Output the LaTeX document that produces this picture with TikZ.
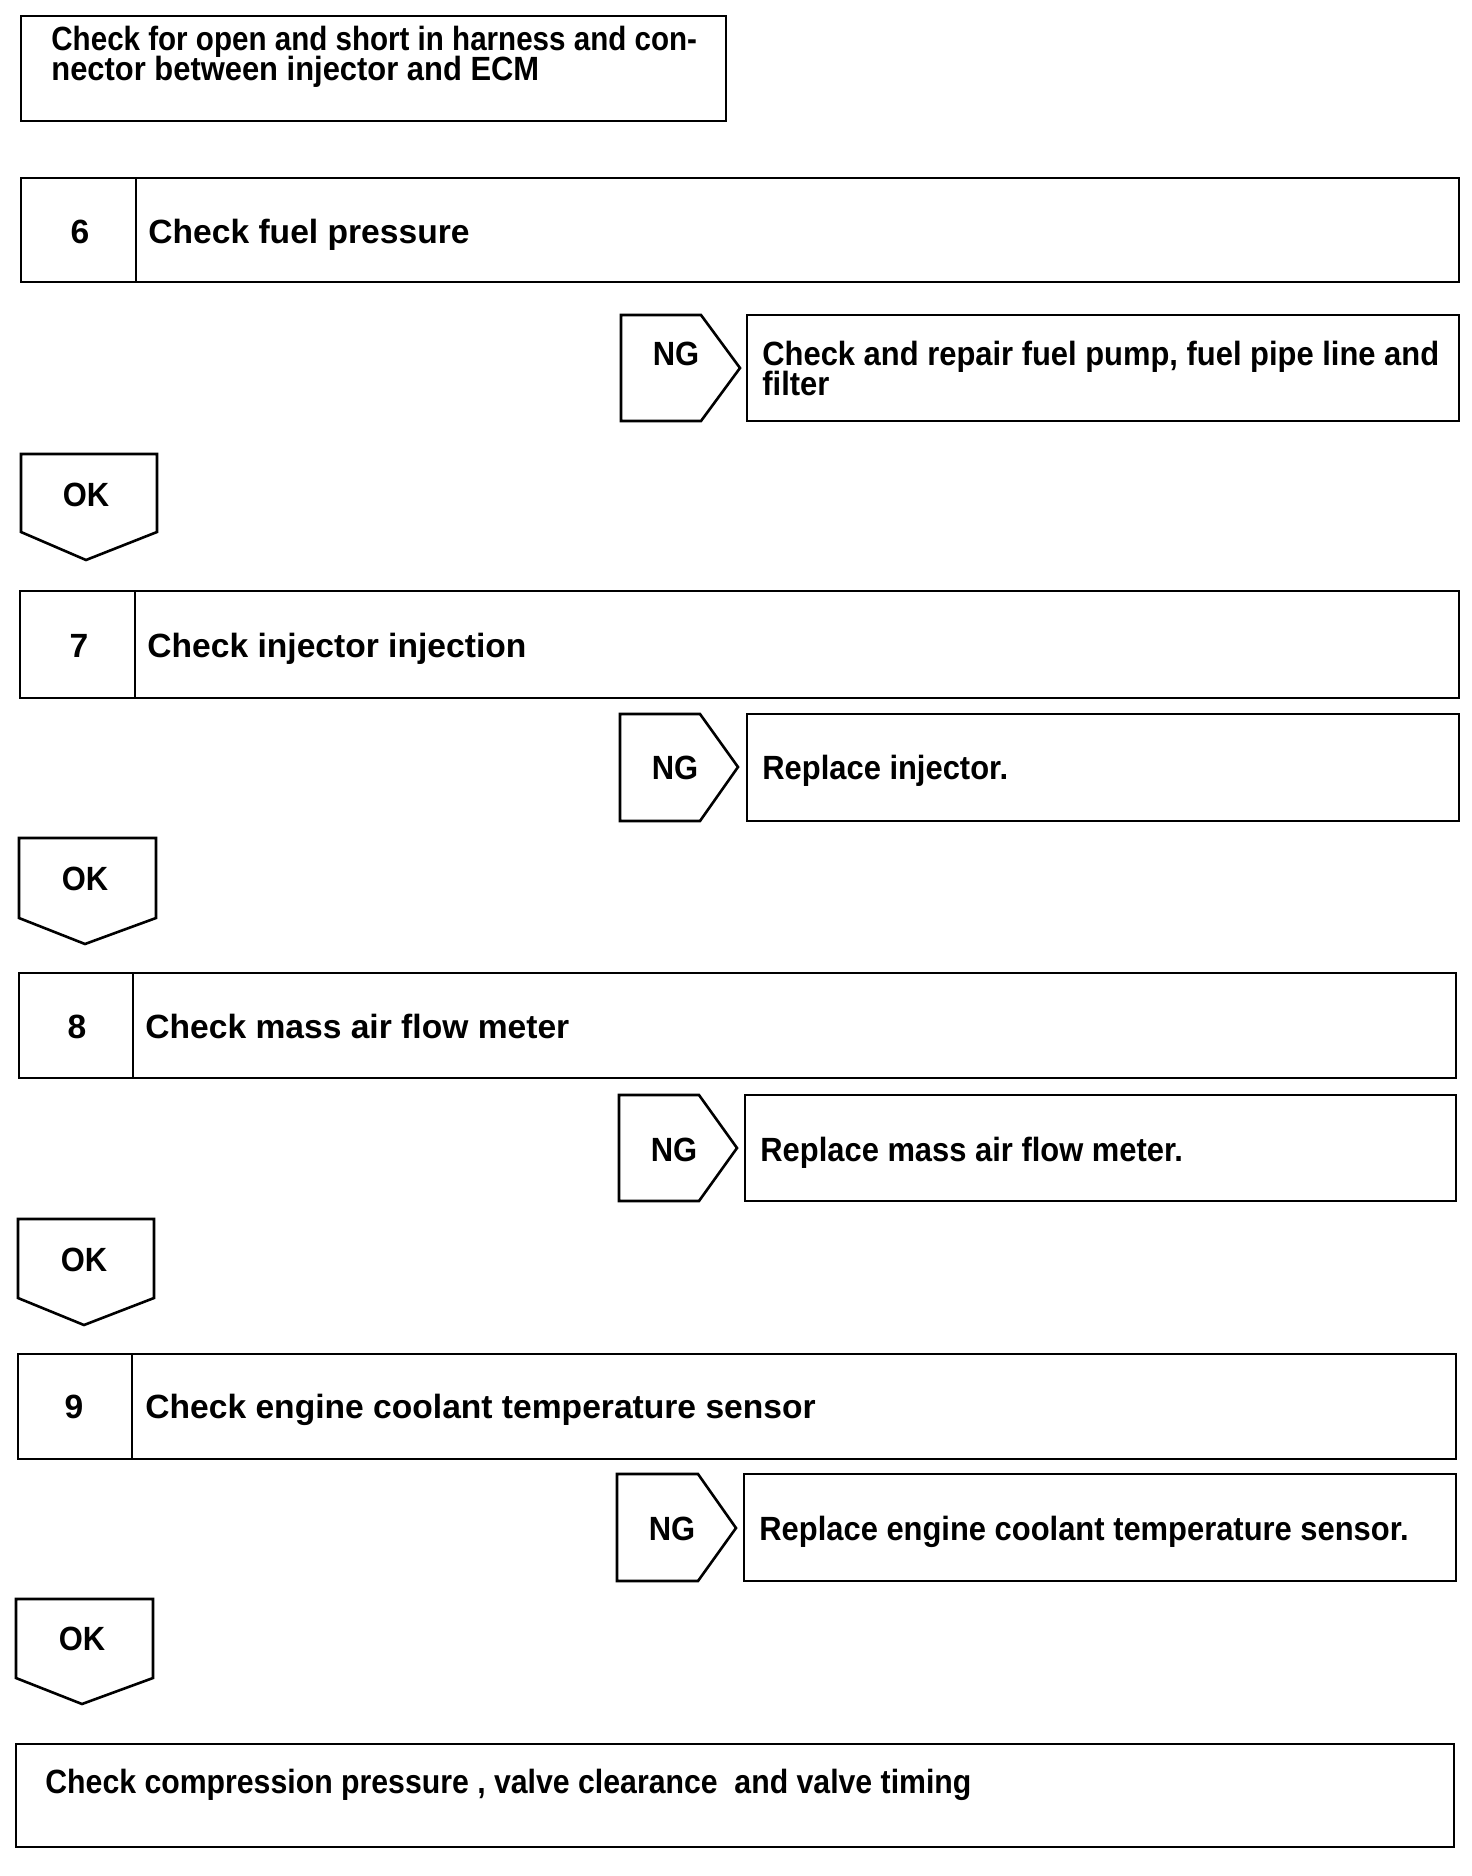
\documentclass[tikz,border=0pt]{standalone}
\usepackage{fontspec}
\setmainfont{Liberation Sans}
\newfontfamily\cfont{Liberation Sans}[FakeStretch=0.88]
\newfontfamily\ffont{Liberation Sans}[FakeStretch=0.90]
\newfontfamily\nfont{Liberation Sans}[FakeStretch=0.92]
\newcommand\tightls{\lineskiplimit=-20pt\relax\lineskip=0pt\relax}
\begin{document}
\begin{tikzpicture}[x=0.5pt,y=-0.5pt,
  frame/.style={line width=1.3pt, line join=miter},
  lbl/.style={font=\bfseries\fontsize{16.8}{15}\selectfont\tightls, inner sep=0pt, anchor=base west, align=left},
  nlbl/.style={font=\nfont\bfseries\fontsize{16.8}{15}\selectfont\tightls, inner sep=0pt, anchor=base west, align=left},
  num/.style={font=\bfseries\fontsize{16.8}{15}\selectfont, inner sep=0pt, anchor=base},
  tag/.style={font=\nfont\bfseries\fontsize{16.8}{15}\selectfont, inner sep=0pt, anchor=base}]
\useasboundingbox (0,0) rectangle (1472,1876);
% top box
\draw[frame] (21,16) rectangle (726,121);
\node[lbl] (top) at (51,80) {{\cfont\bfseries Check for open and short in harness and con-}\\{\nfont\bfseries nector between injector and ECM}};
% step 6
\draw[frame] (21,178) rectangle (1459,282); \draw[frame] (136,178) -- (136,282);
\node[num] (n6) at (80,243) {6};
\node[lbl] (t6) at (148,243) {Check fuel pressure};
\draw[frame] (621,315) -- (701,315) -- (740,368) -- (701,421) -- (621,421) -- cycle;
\node[tag] (ng6) at (676,365) {NG};
\draw[frame] (747,315) rectangle (1459,421);
\node[nlbl] (r6) at (762,395) {Check and repair fuel pump, fuel pipe line and\\filter};
\draw[frame] (21,454) -- (157,454) -- (157,532) -- (86,560) -- (21,532) -- cycle;
\node[tag] (ok6) at (86,506) {OK};
% step 7
\draw[frame] (20,591) rectangle (1459,698); \draw[frame] (135,591) -- (135,698);
\node[num] (n7) at (79,657) {7};
\node[lbl] (t7) at (147,657) {Check injector injection};
\draw[frame] (620,714) -- (700,714) -- (738,767) -- (700,821) -- (620,821) -- cycle;
\node[tag] (ng7) at (675,779) {NG};
\draw[frame] (747,714) rectangle (1459,821);
\node[nlbl] (r7) at (762,779) {Replace injector.};
\draw[frame] (19,838) -- (156,838) -- (156,918) -- (85,944) -- (19,918) -- cycle;
\node[tag] (ok7) at (85,890) {OK};
% step 8
\draw[frame] (19,973) rectangle (1456,1078); \draw[frame] (133,973) -- (133,1078);
\node[num] (n8) at (77,1038) {8};
\node[lbl] (t8) at (145,1038) {Check mass air flow meter};
\draw[frame] (619,1095) -- (699,1095) -- (737,1148) -- (699,1201) -- (619,1201) -- cycle;
\node[tag] (ng8) at (674,1161) {NG};
\draw[frame] (745,1095) rectangle (1456,1201);
\node[nlbl] (r8) at (760,1161) {Replace mass air flow meter.};
\draw[frame] (18,1219) -- (154,1219) -- (154,1298) -- (84,1325) -- (18,1298) -- cycle;
\node[tag] (ok8) at (84,1271) {OK};
% step 9
\draw[frame] (18,1354) rectangle (1456,1459); \draw[frame] (132,1354) -- (132,1459);
\node[num] (n9) at (74,1418) {9};
\node[lbl] (t9) at (145,1418) {Check engine coolant temperature sensor};
\draw[frame] (617,1474) -- (698,1474) -- (736,1528) -- (698,1581) -- (617,1581) -- cycle;
\node[tag] (ng9) at (672,1540) {NG};
\draw[frame] (744,1474) rectangle (1456,1581);
\node[nlbl] (r9) at (759,1540) {Replace engine coolant temperature sensor.};
\draw[frame] (16,1599) -- (153,1599) -- (153,1678) -- (82,1704) -- (16,1678) -- cycle;
\node[tag] (ok9) at (82,1650) {OK};
% final
\draw[frame] (16,1744) rectangle (1454,1847);
\node[lbl, font=\ffont\bfseries\fontsize{16.8}{15}\selectfont] (fin) at (45,1793) {Check compression pressure , valve clearance \ and valve timing};
\end{tikzpicture}
\end{document}
